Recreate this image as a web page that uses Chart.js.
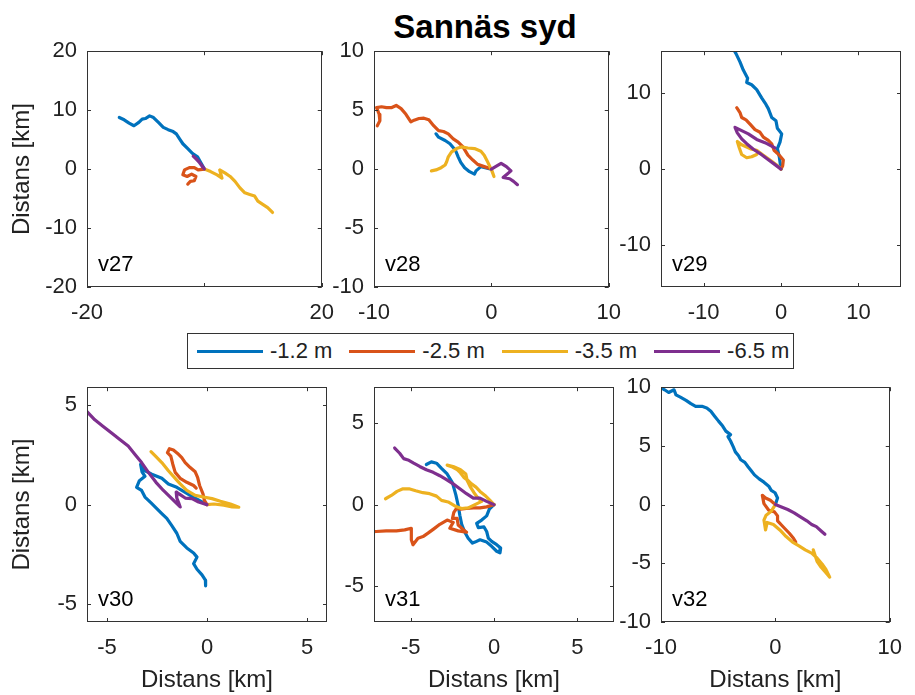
<!DOCTYPE html>
<html><head><meta charset="utf-8">
<script src="https://cdn.jsdelivr.net/npm/chart.js@4.4.0/dist/chart.umd.min.js"></script>
<style>
html,body{margin:0;padding:0;background:#fff;}
body{width:915px;height:695px;position:relative;overflow:hidden;font-family:"Liberation Sans",Arial,sans-serif;color:#222;}
canvas{position:absolute;}
#title{position:absolute;left:285px;top:7px;width:400px;text-align:center;font-weight:bold;font-size:33px;line-height:40px;color:#000;}
#legend{position:absolute;left:187px;top:333px;width:607px;height:36px;border:1px solid #333;box-sizing:border-box;background:#fff;display:flex;align-items:center;padding-left:9px;z-index:5;white-space:nowrap;}
.item{display:flex;align-items:center;margin-right:17px;flex-shrink:0;}
.sw{width:66px;height:3px;margin-right:7px;flex-shrink:0;}
.lt{font-size:22px;line-height:22px;color:#222;white-space:nowrap;}
</style></head><body>
<div id="title"></div>
<div id="legend"></div>
<canvas id="c0"></canvas><canvas id="c1"></canvas><canvas id="c2"></canvas>
<canvas id="c3"></canvas><canvas id="c4"></canvas><canvas id="c5"></canvas>
<script>
// ---------- text ----------
const figureTitle = 'Sannäs syd';
const depthLabels = ['-1.2 m', '-2.5 m', '-3.5 m', '-6.5 m'];
const weekLabels = ['v27', 'v28', 'v29', 'v30', 'v31', 'v32'];
const axisTitle = 'Distans [km]';

// ---------- axis limits (km) ----------
const v27_limX = [-20, 20], v27_limY = [-20, 20];
const v28_limX = [-10, 10], v28_limY = [-10, 10];
const v29_limX = [-15.5, 15.5], v29_limY = [-15.5, 15.5];
const v30_limX = [-6, 6], v30_limY = [-5.9, 5.9];
const v31_limX = [-7.2, 7.2], v31_limY = [-7.2, 7.2];
const v32_limX = [-10, 10], v32_limY = [-10, 10];

// ---------- tick values and tick labels ----------
const v27_ticksX = [-20, 0, 20], v27_labelsX = ['-20', '', '20'];
const v27_ticksY = [-20, -10, 0, 10, 20], v27_labelsY = ['-20', '-10', '0', '10', '20'];
const v28_ticksX = [-10, 0, 10], v28_labelsX = ['-10', '0', '10'];
const v28_ticksY = [-10, -5, 0, 5, 10], v28_labelsY = ['-10', '-5', '0', '5', '10'];
const v29_ticksX = [-10, 0, 10], v29_labelsX = ['-10', '0', '10'];
const v29_ticksY = [-10, 0, 10], v29_labelsY = ['-10', '0', '10'];
const v30_ticksX = [-5, 0, 5], v30_labelsX = ['-5', '0', '5'];
const v30_ticksY = [-5, 0, 5], v30_labelsY = ['-5', '0', '5'];
const v31_ticksX = [-5, 0, 5], v31_labelsX = ['-5', '0', '5'];
const v31_ticksY = [-5, 0, 5], v31_labelsY = ['-5', '0', '5'];
const v32_ticksX = [-10, 0, 10], v32_labelsX = ['-10', '0', '10'];
const v32_ticksY = [-10, -5, 0, 5, 10], v32_labelsY = ['-10', '-5', '0', '5', '10'];

// ---------- progressive vectors [x km, y km] ----------
const v27_d12 = [[0,0],[-1.17,2.08],[-2.0,2.64],[-2.83,3.47],[-3.67,4.3],[-4.2,5.1],[-4.78,5.97],[-5.33,6.36],[-6.17,6.69],[-7.0,7.08],[-7.83,7.92],[-8.67,8.75],[-9.33,9.03],[-10.06,8.58],[-10.6,8.47],[-11.17,7.92],[-12.0,7.36],[-12.83,7.8],[-13.67,8.36],[-14.5,8.75]];
const v27_d25 = [[0,0],[-1.06,-0.14],[-1.72,0.26],[-2.56,0.26],[-3.39,-0.14],[-3.67,-0.97],[-2.94,-1.25],[-2.17,-0.86],[-1.44,-1.25],[-1.72,-1.97],[-2.39,-2.08],[-2.83,-2.53]];
const v27_d35 = [[0,0],[1.06,-0.42],[2.17,-0.97],[3.0,-1.53],[2.61,-0.14],[3.56,-0.69],[4.39,-1.25],[5.22,-2.08],[6.06,-3.19],[6.89,-4.03],[7.72,-4.31],[8.56,-4.58],[9.11,-5.42],[9.94,-5.97],[10.78,-6.53],[11.61,-7.36]];
const v27_d65 = [[0,0],[-0.4,0.5],[-0.9,1.2],[-1.5,1.8],[-1.9,2.2],[-1.2,1.6],[-0.5,0.7],[-0.2,0.3]];

const v28_d12 = [[0,0],[-0.89,0.21],[-1.31,-0.15],[-1.44,-0.43],[-1.86,-0.22],[-2.28,0.12],[-2.61,0.57],[-2.83,1.04],[-3.06,1.6],[-3.53,2.15],[-3.94,2.43],[-4.5,2.71],[-4.72,2.99]];
const v28_d25 = [[0,0],[-0.61,0.21],[-1.17,0.4],[-1.58,0.77],[-2.0,1.18],[-2.42,1.88],[-2.83,2.29],[-3.25,2.57],[-3.67,2.99],[-4.08,3.19],[-4.5,3.26],[-4.92,3.68],[-5.33,4.18],[-5.75,4.32],[-6.17,4.29],[-6.58,4.15],[-6.86,4.01],[-7.28,4.65],[-7.69,5.13],[-8.11,5.4],[-8.53,5.21],[-8.94,5.21],[-9.36,5.29],[-9.78,5.21],[-9.56,4.65],[-9.5,4.1],[-9.72,3.68]];
const v28_d35 = [[0,0],[0.22,-0.63],[0,-0.05],[-0.33,0.63],[-0.61,1.18],[-0.89,1.51],[-1.44,1.74],[-2.0,1.79],[-2.56,1.88],[-2.97,1.74],[-3.39,1.46],[-3.67,1.04],[-3.81,0.62],[-3.94,0.35],[-4.28,0.12],[-4.72,-0.07],[-5.11,-0.15]];
const v28_d65 = [[0,0],[0.5,0.29],[0.83,0.49],[1.28,0.21],[1.67,-0.15],[1.33,-0.43],[1.0,-0.71],[1.56,-0.82],[1.89,-1.04],[2.22,-1.32]];

const v29_d12 = [[0,0],[-0.22,1.61],[-0.47,2.69],[-0.13,3.55],[0.09,4.63],[-0.47,5.36],[-0.65,6.35],[-1.2,6.78],[-1.64,7.95],[-1.94,8.5],[-2.5,9.37],[-3.14,10.44],[-3.79,11.09],[-4.43,11.39],[-4.31,11.95],[-4.87,13.02],[-5.3,14.1],[-5.81,15.18],[-6.16,15.8]];
const v29_d25 = [[0,0],[0.22,0.45],[0.3,1.19],[-0.22,1.83],[-0.9,2.48],[-1.2,3.33],[-1.64,3.77],[-2.28,4.2],[-2.71,4.84],[-3.36,5.19],[-4.0,5.92],[-4.52,6.48],[-5.08,6.78],[-5.3,7.43],[-5.72,8.07]];
const v29_d35 = [[0,0],[-0.56,0.54],[-1.42,1.19],[-2.28,1.83],[-3.14,2.48],[-3.79,2.61],[-4.43,2.91],[-5.08,3.21],[-5.64,3.64],[-5.38,2.78],[-5.08,1.92],[-4.43,1.49],[-3.79,1.62],[-3.14,1.92]];
const v29_d65 = [[0,0],[-0.99,0.75],[-1.85,1.4],[-2.71,2.04],[-3.57,2.61],[-4.43,3.34],[-5.08,3.98],[-5.64,4.76],[-5.94,5.49],[-5.08,5.06],[-4.22,4.63],[-3.14,3.9],[-2.07,3.47],[-0.78,2.78]];

const v30_d12 = [[0,0],[-0.84,0.46],[-1.51,0.87],[-1.93,1.04],[-2.26,1.32],[-2.76,1.53],[-3.1,1.7],[-3.32,2.03],[-3.25,1.65],[-3.1,1.42],[-3.38,1.2],[-3.52,0.87],[-3.27,0.71],[-3.1,0.38],[-2.81,0.1],[-2.51,-0.2],[-2.26,-0.45],[-2.01,-0.69],[-1.76,-1.06],[-1.51,-1.44],[-1.34,-1.85],[-1.01,-2.18],[-0.67,-2.43],[-0.5,-2.64],[-0.67,-2.97],[-0.5,-3.25],[-0.25,-3.53],[-0.08,-3.8],[-0.07,-4.08]];
const v30_d25 = [[0,0],[-0.13,0.21],[-0.2,0.54],[-0.37,0.96],[-0.47,1.37],[-0.59,1.65],[-0.84,1.86],[-1.09,2.11],[-1.26,2.36],[-1.47,2.57],[-1.68,2.74],[-1.88,2.81],[-1.98,2.61],[-1.81,2.44],[-1.71,2.03],[-1.59,1.62],[-1.34,1.32],[-1.01,1.12],[-0.67,0.96],[-0.54,0.83]];
const v30_d35 = [[0,0],[0.34,0.03],[0.84,-0.03],[1.26,-0.12],[1.59,-0.13],[1.17,0.03],[0.67,0.17],[0.25,0.3],[-0.17,0.38],[-0.59,0.46],[-1.01,0.71],[-1.34,1.04],[-1.59,1.32],[-1.93,1.7],[-2.26,2.11],[-2.55,2.41],[-2.8,2.66]];
const v30_d65 = [[0,0],[-0.42,0.13],[-0.75,0.3],[-1.09,0.33],[-1.34,0.5],[-1.54,0.63],[-1.51,0.33],[-1.42,0.1],[-1.34,-0.12],[-1.76,0.3],[-2.18,0.71],[-2.55,1.12],[-2.93,1.62],[-3.27,2.11],[-3.6,2.52],[-3.94,2.94],[-4.36,3.27],[-4.77,3.6],[-5.19,3.93],[-5.61,4.26],[-6.0,4.67],[-6.2,4.83]];

const v31_d12 = [[0,0],[-0.28,-0.28],[-0.44,-0.69],[-0.74,-0.95],[-1.04,-1.15],[-0.94,-1.41],[-0.6,-1.37],[-0.44,-1.65],[-0.34,-2.06],[-0.14,-2.26],[0.16,-2.46],[0.4,-2.66],[0.36,-2.96],[0.16,-2.86],[-0.14,-2.56],[-0.44,-2.3],[-0.84,-2.16],[-1.14,-2.3],[-1.29,-2.36],[-1.55,-2.06],[-1.75,-1.69],[-1.93,-1.25],[-2.05,-0.65],[-2.15,-0.04],[-2.29,0.6],[-2.49,1.33],[-2.81,1.88],[-3.15,2.22],[-3.45,2.54],[-3.76,2.62],[-4.06,2.46]];
const v31_d25 = [[0,0],[-0.44,-0.14],[-0.84,-0.2],[-1.24,-0.2],[-1.65,-0.24],[-2.01,-0.28],[-2.25,-0.24],[-2.41,-0.48],[-2.49,-0.85],[-2.21,-0.85],[-2.15,-1.25],[-1.89,-1.49],[-1.65,-1.69],[-2.15,-1.61],[-2.65,-1.45],[-2.45,-1.09],[-2.81,-0.95],[-3.25,-1.21],[-3.61,-1.49],[-3.96,-1.75],[-4.26,-1.96],[-4.56,-2.06],[-4.86,-2.46],[-4.96,-2.16],[-4.96,-1.45],[-5.36,-1.55],[-5.86,-1.61],[-6.47,-1.61],[-7.07,-1.65],[-7.47,-1.67]];
const v31_d35 = [[0,0],[-0.24,0.26],[-0.54,0.56],[-0.84,0.81],[-1.08,1.07],[-1.35,1.27],[-1.55,1.47],[-1.81,1.67],[-2.01,1.94],[-2.21,2.14],[-2.49,2.3],[-2.81,2.42],[-2.45,2.34],[-2.01,2.14],[-1.69,1.88],[-1.61,1.47],[-1.41,1.07],[-1.2,0.73],[-1.0,0.46],[-0.74,0.2],[-1.14,0.0],[-1.55,-0.2],[-1.95,-0.24],[-2.35,-0.08],[-2.75,0.16],[-3.15,0.26],[-3.45,0.52],[-3.86,0.67],[-4.26,0.73],[-4.7,0.85],[-5.1,0.97],[-5.46,0.97],[-5.82,0.81],[-6.16,0.56],[-6.51,0.36]];
const v31_d65 = [[0,0],[-0.44,0.2],[-0.84,0.4],[-1.24,0.4],[-1.65,0.67],[-2.05,0.97],[-2.45,1.27],[-2.85,1.53],[-3.25,1.77],[-3.65,1.98],[-4.06,2.14],[-4.46,2.34],[-4.82,2.54],[-5.16,2.74],[-5.42,2.82],[-5.66,3.15],[-5.96,3.47]];

const v32_d12 = [[0,0],[0.19,0.56],[-0.03,1.01],[-0.36,1.21],[-0.58,1.57],[-1.0,1.91],[-1.42,2.19],[-1.83,2.53],[-2.11,2.89],[-2.39,3.23],[-2.67,3.6],[-3.03,3.82],[-3.22,4.16],[-3.5,4.49],[-3.69,4.94],[-3.92,5.42],[-4.14,5.79],[-3.92,5.96],[-4.33,6.26],[-4.61,6.69],[-4.97,7.11],[-5.31,7.53],[-5.64,7.95],[-6.0,8.23],[-6.42,8.37],[-6.97,8.37],[-7.39,8.6],[-7.81,8.88],[-8.31,9.16],[-8.69,9.35],[-8.86,9.78],[-9.33,9.55],[-9.69,9.78],[-9.94,9.92]];
const v32_d25 = [[0,0],[-0.44,0.37],[-0.86,0.56],[-1.14,0.79],[-1.0,0.08],[-0.58,-0.48],[-0.08,-0.62],[0.19,-0.96],[0.19,-1.38],[0.53,-1.74],[0.86,-2.08],[1.22,-2.44],[1.58,-2.87],[1.78,-3.2]];
const v32_d35 = [[0,0],[-0.36,-0.56],[-0.81,-0.9],[-1.0,-1.32],[-0.86,-2.16],[-0.72,-1.52],[-0.17,-1.69],[0.39,-2.16],[0.94,-2.72],[1.5,-3.2],[2.06,-3.51],[2.61,-3.85],[3.17,-4.13],[3.64,-4.55],[4.08,-5.06],[4.42,-5.53],[4.75,-6.18],[4.42,-5.81],[4.0,-5.34],[3.64,-4.83],[3.31,-3.85]];
const v32_d65 = [[0,0],[0.53,-0.2],[1.08,-0.42],[1.64,-0.7],[2.19,-1.04],[2.75,-1.38],[3.17,-1.69],[3.58,-1.88],[4.0,-2.25],[4.33,-2.53]];

// ---------- styles ----------
const seriesColors = ['#0072BD', '#D95319', '#EDB120', '#7E2F8E'];
const textColor = '#222222';
const axisColor = '#333333';
const FONT = '"Liberation Sans", Arial, sans-serif';

const panels = [
  {week: weekLabels[0], series: [v27_d12, v27_d25, v27_d35, v27_d65], limX: v27_limX, limY: v27_limY, tx: v27_ticksX, ty: v27_ticksY, lx: v27_labelsX, ly: v27_labelsY},
  {week: weekLabels[1], series: [v28_d12, v28_d25, v28_d35, v28_d65], limX: v28_limX, limY: v28_limY, tx: v28_ticksX, ty: v28_ticksY, lx: v28_labelsX, ly: v28_labelsY},
  {week: weekLabels[2], series: [v29_d12, v29_d25, v29_d35, v29_d65], limX: v29_limX, limY: v29_limY, tx: v29_ticksX, ty: v29_ticksY, lx: v29_labelsX, ly: v29_labelsY},
  {week: weekLabels[3], series: [v30_d12, v30_d25, v30_d35, v30_d65], limX: v30_limX, limY: v30_limY, tx: v30_ticksX, ty: v30_ticksY, lx: v30_labelsX, ly: v30_labelsY},
  {week: weekLabels[4], series: [v31_d12, v31_d25, v31_d35, v31_d65], limX: v31_limX, limY: v31_limY, tx: v31_ticksX, ty: v31_ticksY, lx: v31_labelsX, ly: v31_labelsY},
  {week: weekLabels[5], series: [v32_d12, v32_d25, v32_d35, v32_d65], limX: v32_limX, limY: v32_limY, tx: v32_ticksX, ty: v32_ticksY, lx: v32_labelsX, ly: v32_labelsY}
];

// canvas boxes (layout only)
const boxes = [
  {left: 0,   top: 28,  w: 347, h: 304, yW: 87, xH: 45, padT: 20, padR: 20, yTitle: true,  xTitle: false},
  {left: 314, top: 28,  w: 320, h: 304, yW: 60, xH: 45, padT: 20, padR: 20, yTitle: false, xTitle: false},
  {left: 601, top: 28,  w: 314, h: 304, yW: 60, xH: 45, padT: 20, padR: 14, yTitle: false, xTitle: false},
  {left: 0,   top: 364, w: 347, h: 331, yW: 87, xH: 73, padT: 20, padR: 20, yTitle: true,  xTitle: true},
  {left: 314, top: 364, w: 320, h: 331, yW: 60, xH: 73, padT: 20, padR: 20, yTitle: false, xTitle: true},
  {left: 601, top: 364, w: 314, h: 331, yW: 60, xH: 73, padT: 20, padR: 14, yTitle: false, xTitle: true}
];

// title + legend
document.getElementById('title').textContent = figureTitle;
const leg = document.getElementById('legend');
depthLabels.forEach((lab, i) => {
  const it = document.createElement('div'); it.className = 'item';
  const sw = document.createElement('div'); sw.className = 'sw'; sw.style.background = seriesColors[i];
  const t = document.createElement('span'); t.className = 'lt'; t.textContent = lab;
  it.appendChild(sw); it.appendChild(t); leg.appendChild(it);
});

// frame, inward ticks and panel label
const framePlugin = {
  id: 'frame',
  afterDatasetsDraw(chart, args, opts) {
    const {ctx, chartArea: a, scales: {x, y}} = chart;
    ctx.save();
    ctx.strokeStyle = axisColor;
    ctx.lineWidth = 1;
    ctx.strokeRect(Math.round(a.left) + 0.5, Math.round(a.top) + 0.5, Math.round(a.width) - 1, Math.round(a.height) - 1);
    const L = 4;
    ctx.beginPath();
    x.ticks.forEach(t => {
      const px = Math.round(x.getPixelForValue(t.value)) + 0.5;
      ctx.moveTo(px, a.bottom); ctx.lineTo(px, a.bottom - L);
      ctx.moveTo(px, a.top); ctx.lineTo(px, a.top + L);
    });
    y.ticks.forEach(t => {
      const py = Math.round(y.getPixelForValue(t.value)) + 0.5;
      ctx.moveTo(a.left, py); ctx.lineTo(a.left + L, py);
      ctx.moveTo(a.right, py); ctx.lineTo(a.right - L, py);
    });
    ctx.stroke();
    ctx.fillStyle = '#000';
    ctx.font = '22px ' + FONT;
    ctx.textBaseline = 'middle';
    ctx.textAlign = 'left';
    ctx.fillText(opts.label, a.left + 11, a.bottom - 22);
    ctx.restore();
  }
};

panels.forEach((p, i) => {
  const b = boxes[i];
  const cv = document.getElementById('c' + i);
  cv.width = b.w; cv.height = b.h;
  cv.style.left = b.left + 'px'; cv.style.top = b.top + 'px';
  cv.style.width = b.w + 'px'; cv.style.height = b.h + 'px';
  const datasets = p.series.map((s, k) => ({
    label: depthLabels[k],
    data: s.map(([xv, yv]) => ({x: xv, y: yv})),
    showLine: true,
    borderColor: seriesColors[k],
    backgroundColor: seriesColors[k],
    borderWidth: 3.2,
    pointRadius: 0,
    pointHoverRadius: 0,
    tension: 0,
    borderJoinStyle: 'round',
    borderCapStyle: 'round',
    order: 4 - k,
    clip: 0
  }));
  new Chart(cv, {
    type: 'scatter',
    data: {datasets},
    options: {
      responsive: false,
      animation: false,
      devicePixelRatio: 1,
      layout: {padding: {top: b.padT, right: b.padR, left: 0, bottom: 0}},
      plugins: {legend: {display: false}, tooltip: {enabled: false}, frame: {label: p.week}},
      scales: {
        x: {
          type: 'linear', position: 'bottom',
          min: p.limX[0], max: p.limX[1],
          afterBuildTicks: s => { s.ticks = p.tx.map(v => ({value: v})); },
          afterFit: s => { s.height = b.xH; },
          grid: {display: false, drawTicks: false},
          border: {display: false},
          ticks: {autoSkip: false, maxRotation: 0, padding: 13, color: textColor, font: {family: FONT, size: 22},
                  callback: (v, idx) => p.lx[idx]},
          title: {display: b.xTitle, text: axisTitle, color: textColor, font: {family: FONT, size: 24}, padding: {top: 0, bottom: 0}}
        },
        y: {
          type: 'linear', position: 'left',
          min: p.limY[0], max: p.limY[1],
          afterBuildTicks: s => { s.ticks = p.ty.map(v => ({value: v})); },
          afterFit: s => { s.width = b.yW; },
          grid: {display: false, drawTicks: false},
          border: {display: false},
          ticks: {autoSkip: false, padding: 10, color: textColor, font: {family: FONT, size: 22},
                  callback: (v, idx) => p.ly[idx]},
          title: {display: b.yTitle, text: axisTitle, color: textColor, font: {family: FONT, size: 24}, padding: {top: 8, bottom: 0}}
        }
      }
    },
    plugins: [framePlugin]
  });
});
</script>
</body></html>
